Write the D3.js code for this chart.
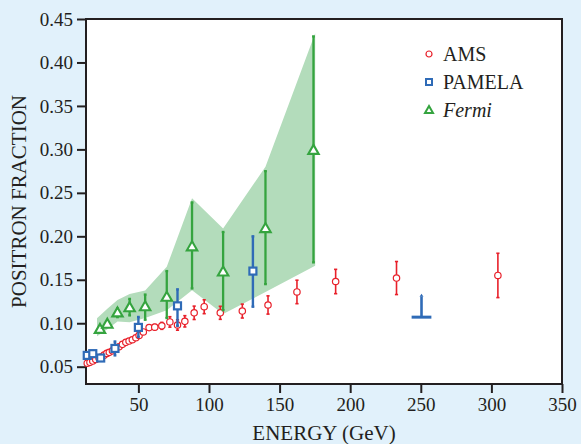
<!DOCTYPE html>
<html>
<head>
<meta charset="utf-8">
<script src="https://cdn.jsdelivr.net/npm/d3@7"></script>
<style>
	html, body { margin: 0; padding: 0; background: #e1f1fb; }
	svg { display: block; font-family: "Liberation Serif", "DejaVu Serif", serif; }
	.frame { fill: #fff; stroke: #231f20; stroke-width: 2; }
	.tick line { stroke: #231f20; stroke-width: 2; }
	.tick text { fill: #231f20; font-size: 19px; font-family: "Liberation Serif", serif; }
	.axis-title { fill: #231f20; font-size: 21px; }
	.legend text { fill: #231f20; font-size: 20px; }
</style>
</head>
<body>
<svg id="chart" width="581" height="444"></svg>
<script>
(function() {

	// AMS
	var amsEnergy = [13.8, 15.7, 17.7, 19.8, 22.1, 24.0, 25.7, 27.6, 29.4, 31.6, 34.0, 36.3, 38.7, 41.1, 43.4, 45.7, 48.2, 50.5, 53.5, 57.6, 61.6, 66.6, 72.3, 77.7, 82.9, 89.5, 96.6, 108, 123.6, 141.8, 162.3, 189.7, 232.8, 304.6];
	var amsValue = [0.054, 0.055, 0.0565, 0.0584, 0.060, 0.0614, 0.0633, 0.0653, 0.0665, 0.0683, 0.071, 0.073, 0.0757, 0.078, 0.0795, 0.081, 0.0833, 0.086, 0.090, 0.095, 0.0955, 0.097, 0.1015, 0.098, 0.1022, 0.112, 0.119, 0.112, 0.114, 0.121, 0.136, 0.148, 0.152, 0.155];
	var amsError = [0.001, 0.001, 0.001, 0.001, 0.001, 0.001, 0.001, 0.001, 0.001, 0.001, 0.001, 0.001, 0.001, 0.001, 0.001, 0.0015, 0.0015, 0.002, 0.002, 0.003, 0.003, 0.004, 0.006, 0.006, 0.0065, 0.0077, 0.008, 0.0075, 0.008, 0.0105, 0.0135, 0.014, 0.019, 0.0255];

	// PAMELA
	var pamelaEnergy = [13.8, 17.7, 23.3, 33.4, 50, 77.7, 131.1];
	var pamelaValue = [0.063, 0.065, 0.060, 0.071, 0.0952, 0.120, 0.160];
	var pamelaErrorLow = [0.003, 0.003, 0.003, 0.008, 0.011, 0.023, 0.041];
	var pamelaErrorHigh = [0.003, 0.003, 0.003, 0.008, 0.012, 0.019, 0.040];
	var pamelaLimit = { energy: 250.5, value: 0.107, top: 0.134, halfWidth: 7 };

	// Fermi
	var fermiEnergy = [22.8, 28, 35.2, 43.8, 54.8, 70.1, 88, 110, 140, 174];
	var fermiValue = [0.093, 0.099, 0.112, 0.118, 0.119, 0.130, 0.188, 0.159, 0.209, 0.299];
	var fermiErrorLow = [0.003, 0.003, 0.005, 0.009, 0.015, 0.024, 0.048, 0.044, 0.064, 0.129];
	var fermiErrorHigh = [0.003, 0.003, 0.005, 0.010, 0.014, 0.030, 0.051, 0.046, 0.066, 0.131];
	var bandEnergy = [20.7, 28, 35.2, 43.8, 54.8, 70.1, 88, 110, 140, 175.2];
	var bandLow = [0.085, 0.093, 0.102, 0.101, 0.106, 0.115, 0.138, 0.1105, 0.136, 0.166];
	var bandHigh = [0.1056, 0.1166, 0.1266, 0.1336, 0.1376, 0.165, 0.2437, 0.209, 0.280, 0.4335];

	var xTicks = [50, 100, 150, 200, 250, 300, 350];
	var yTicks = [0.05, 0.10, 0.15, 0.20, 0.25, 0.30, 0.35, 0.40, 0.45];

	var colors = { ams: '#e8202a', pamela: '#2f6bb7', fermi: '#35a43f', band: '#b3dcbb' };

	var width = 581,
		height = 444,
		left = 86, right = 562, top = 19, bottom = 384;

	var x = d3.scaleLinear().domain([12.9, 350]).range([left, right]);
	var y = d3.scaleLinear().domain([0.0301, 0.45]).range([bottom, top]);

	var svg = d3.select('#chart');

	svg.append('rect')
		.attr('width', width)
		.attr('height', height)
		.attr('fill', '#e1f1fb');

	svg.append('rect')
		.attr('class', 'frame')
		.attr('x', left)
		.attr('y', top)
		.attr('width', right - left)
		.attr('height', bottom - top);

	// axes
	var xAxis = d3.axisBottom(x).tickValues(xTicks).tickSize(9).tickPadding(5).tickFormat(d3.format('d'));
	svg.append('g')
		.attr('transform', 'translate(0 ' + bottom + ')')
		.call(xAxis)
		.attr('font-family', null)
		.call(function(g) { g.select('.domain').remove(); });

	var yAxis = d3.axisLeft(y).tickValues(yTicks).tickSize(9).tickPadding(4).tickFormat(d3.format('.2f'));
	svg.append('g')
		.attr('transform', 'translate(' + left + ' 0)')
		.call(yAxis)
		.attr('font-family', null)
		.call(function(g) { g.select('.domain').remove(); });

	svg.append('text')
		.attr('class', 'axis-title')
		.attr('x', (left + right) / 2)
		.attr('y', 440)
		.attr('text-anchor', 'middle')
		.text('ENERGY (GeV)');

	svg.append('text')
		.attr('class', 'axis-title')
		.attr('transform', 'translate(26 ' + (top + bottom) / 2 + ') rotate(-90)')
		.attr('text-anchor', 'middle')
		.text('POSITRON FRACTION');

	var plot = svg.append('g');

	// Fermi systematic band
	var bandData = bandEnergy.map(function(e, i) {
		return { e: e, lo: bandLow[i], hi: bandHigh[i] };
	});
	plot.append('path')
		.datum(bandData)
		.attr('fill', colors.band)
		.attr('d', d3.area()
			.x(function(d) { return x(d.e); })
			.y0(function(d) { return y(d.lo); })
			.y1(function(d) { return y(d.hi); }));

	function errorBars(g, data, color, lineWidth, cap) {
		var bars = g.append('g')
			.attr('stroke', color)
			.attr('stroke-width', lineWidth)
			.selectAll('g')
			.data(data)
			.enter()
			.append('g');

		bars.append('line')
			.attr('x1', function(d) { return x(d.e); })
			.attr('x2', function(d) { return x(d.e); })
			.attr('y1', function(d) { return y(d.v - d.lo); })
			.attr('y2', function(d) { return y(d.v + d.hi); });

		[function(d) { return y(d.v - d.lo); }, function(d) { return y(d.v + d.hi); }].forEach(function(fy) {
			bars.append('line')
				.attr('x1', function(d) { return x(d.e) - cap; })
				.attr('x2', function(d) { return x(d.e) + cap; })
				.attr('y1', fy)
				.attr('y2', fy);
		});
	}

	// AMS
	var amsData = amsEnergy.map(function(e, i) {
		return { e: e, v: amsValue[i], lo: amsError[i], hi: amsError[i] };
	});
	var amsG = plot.append('g');
	errorBars(amsG, amsData, colors.ams, 1.6, 1.6);
	amsG.selectAll('circle')
		.data(amsData)
		.enter()
		.append('circle')
		.attr('cx', function(d) { return x(d.e); })
		.attr('cy', function(d) { return y(d.v); })
		.attr('r', 3.2)
		.attr('fill', '#fff')
		.attr('stroke', colors.ams)
		.attr('stroke-width', 1.2);

	// PAMELA
	var pamelaData = pamelaEnergy.map(function(e, i) {
		return { e: e, v: pamelaValue[i], lo: pamelaErrorLow[i], hi: pamelaErrorHigh[i] };
	});
	var pamelaG = plot.append('g');
	errorBars(pamelaG, pamelaData, colors.pamela, 2.4, 1.4);
	pamelaG.selectAll('rect')
		.data(pamelaData)
		.enter()
		.append('rect')
		.attr('x', function(d) { return x(d.e) - 3.5; })
		.attr('y', function(d) { return y(d.v) - 3.5; })
		.attr('width', 7)
		.attr('height', 7)
		.attr('fill', '#fff')
		.attr('stroke', colors.pamela)
		.attr('stroke-width', 2.2);

	// PAMELA lower limit
	var lim = pamelaG.append('g')
		.attr('stroke', colors.pamela);
	lim.append('line')
		.attr('x1', x(pamelaLimit.energy - pamelaLimit.halfWidth))
		.attr('x2', x(pamelaLimit.energy + pamelaLimit.halfWidth))
		.attr('y1', y(pamelaLimit.value))
		.attr('y2', y(pamelaLimit.value))
		.attr('stroke-width', 3);
	lim.append('line')
		.attr('x1', x(pamelaLimit.energy))
		.attr('x2', x(pamelaLimit.energy))
		.attr('y1', y(pamelaLimit.value))
		.attr('y2', y(pamelaLimit.top) + 3)
		.attr('stroke-width', 2.6);
	pamelaG.append('path')
		.attr('fill', colors.pamela)
		.attr('d', 'M' + (x(pamelaLimit.energy) - 2) + ',' + (y(pamelaLimit.top) + 3) +
			'L' + x(pamelaLimit.energy) + ',' + y(pamelaLimit.top) +
			'L' + (x(pamelaLimit.energy) + 2) + ',' + (y(pamelaLimit.top) + 3) + 'Z');

	// Fermi
	var fermiData = fermiEnergy.map(function(e, i) {
		return { e: e, v: fermiValue[i], lo: fermiErrorLow[i], hi: fermiErrorHigh[i] };
	});
	var fermiG = plot.append('g');
	errorBars(fermiG, fermiData, colors.fermi, 2.3, 1.4);
	var tri = 'M0,-5.4L5.2,3.6L-5.2,3.6Z';
	fermiG.selectAll('.tri')
		.data(fermiData)
		.enter()
		.append('path')
		.attr('class', 'tri')
		.attr('d', tri)
		.attr('transform', function(d) { return 'translate(' + x(d.e) + ' ' + y(d.v) + ')'; })
		.attr('fill', '#fff')
		.attr('stroke', colors.fermi)
		.attr('stroke-width', 2.1);

	// legend
	var legendItems = ['AMS', 'PAMELA', 'Fermi'];
	var legend = svg.append('g')
		.attr('class', 'legend')
		.attr('transform', 'translate(429 54)');

	var item = legend.selectAll('g')
		.data(legendItems)
		.enter()
		.append('g')
		.attr('transform', function(d, i) { return 'translate(0 ' + i * 28 + ')'; });

	item.append('text')
		.attr('x', 14)
		.attr('y', 6.5)
		.style('font-style', function(d) { return d === 'Fermi' ? 'italic' : null; })
		.text(function(d) { return d; });

	item.filter(function(d) { return d === 'AMS'; })
		.append('circle')
		.attr('r', 3)
		.attr('fill', '#fff')
		.attr('stroke', colors.ams)
		.attr('stroke-width', 1.2);

	item.filter(function(d) { return d === 'PAMELA'; })
		.append('rect')
		.attr('x', -3).attr('y', -3)
		.attr('width', 6).attr('height', 6)
		.attr('fill', '#fff')
		.attr('stroke', colors.pamela)
		.attr('stroke-width', 2);

	item.filter(function(d) { return d === 'Fermi'; })
		.append('path')
		.attr('d', 'M0,-4L4,3L-4,3Z')
		.attr('fill', '#fff')
		.attr('stroke', colors.fermi)
		.attr('stroke-width', 2);

})();
</script>
</body>
</html>
